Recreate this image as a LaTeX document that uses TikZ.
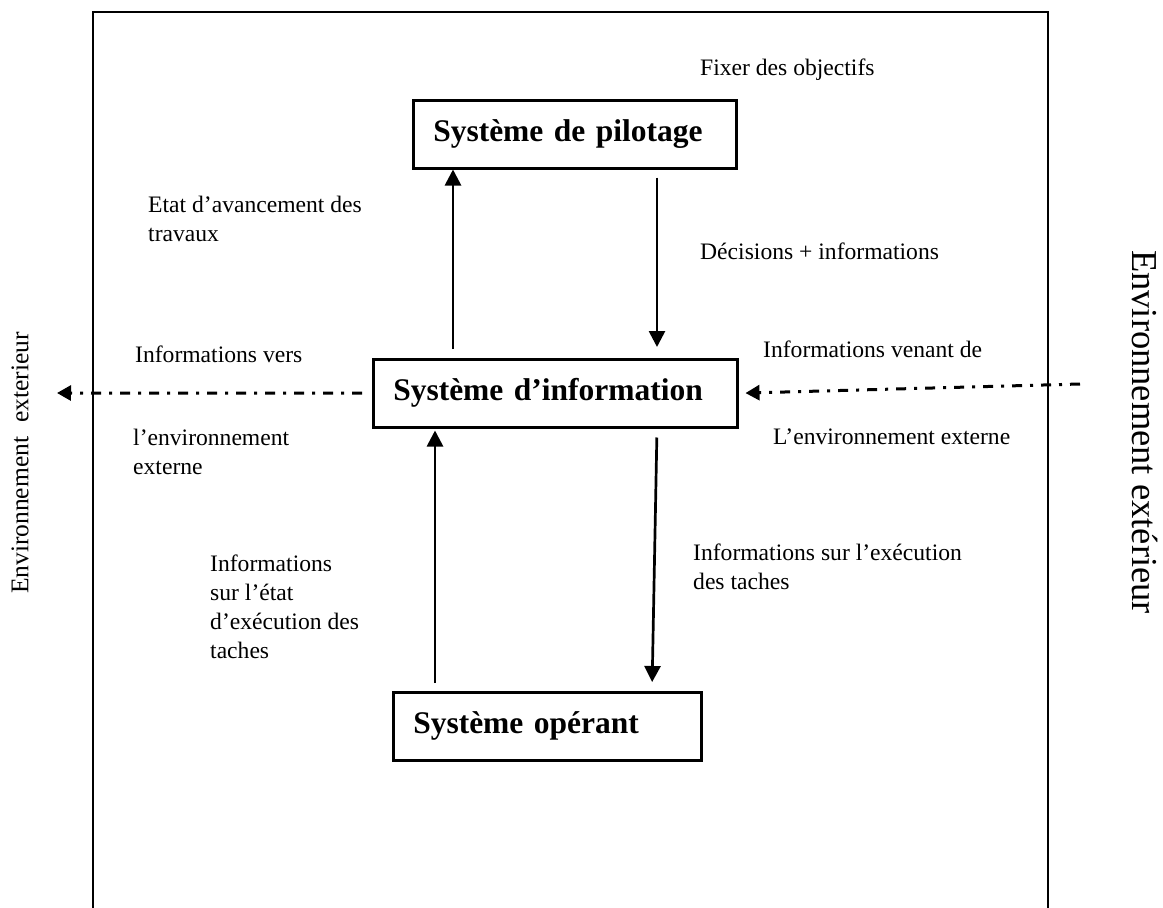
\documentclass[tikz,border=0pt]{standalone}
\usepackage{fontspec}
\setmainfont{Liberation Serif}
\usetikzlibrary{arrows.meta}
\tikzset{arrow/.style = {> = {Triangle[length = 16pt, width = 16pt]}}}
\tikzset{smallarrow/.style = {> = {Triangle[length = 14pt, width = 15pt]}}}
\usetikzlibrary{positioning}

\begin{document}
\begin{tikzpicture}[x = 1pt, y = -1pt,
	box/.style = {rectangle, draw, line width = 2.5pt, minimum height = 68pt, inner xsep = 20pt, align = left, font = \fontsize{31.5}{38}\selectfont\bfseries},
	lbl/.style = {anchor = north west, align = left, inner sep = 0pt, font = \fontsize{23.6}{29}\selectfont},
	flow/.style = {line width = 2.7pt},
	dashdot/.style = {line width = 3pt, dash pattern = on 10pt off 8pt on 3pt off 8pt}]
	\useasboundingbox (0, 0) rectangle (1163, 908);

	%% Frame
	\draw[line width = 1.8pt] (93, 908) -- (93, 12) -- (1048, 12) -- (1048, 908);

	%% Systems
	\node[box, anchor = north west, text width = 283pt] (pilot) at (412, 99) {Système de pilotage};
	\node[box, anchor = north west, text width = 324pt] (info) at (372, 358) {Système d’information};
	\node[box, anchor = north west, text width = 268pt] (oper) at (392, 691) {Système opérant};

	%% Environment
	\node[rotate = 90, font = \fontsize{25.5}{31}\selectfont] (envL) at (20, 463) {Environnement\hspace{0.3em} exterieur};
	\node[rotate = -90, font = \fontsize{36.5}{44}\selectfont] (envR) at (1145, 432) {Environnement extérieur};

	%% Labels
	\node[lbl] (objectifs) at (700, 59) {Fixer des objectifs};
	\node[lbl] (avancement) at (148, 196) {Etat d’avancement des\\travaux};
	\node[lbl] (decisions) at (700, 243) {Décisions + informations};
	\node[lbl] (versA) at (135, 346) {Informations vers};
	\node[lbl] (versB) at (133, 429) {l’environnement\\externe};
	\node[lbl] (venantA) at (763, 341) {Informations venant de};
	\node[lbl] (venantB) at (773, 429) {L’environnement externe};
	\node[lbl] (etat) at (210, 555) {Informations\\sur l’état\\d’exécution des\\taches};
	\node[lbl] (execution) at (693, 544) {Informations sur l’exécution\\des taches};

	%% Arrows...
	\coordinate (upA) at (453, 0);
	\coordinate (downA) at (657, 0);
	\coordinate (upB) at (435, 0);
	\coordinate (downB) at (657, 0);
	\coordinate (downC) at (652, 0);
	\coordinate (extL) at (57, 393);
	\coordinate (extR) at (1080, 384);

	% ... pilotage <-> information
	\draw[->, arrow, flow, shorten <= 9pt] (info.north -| upA) -- (pilot.south -| upA);
	\draw[->, arrow, flow, shorten <= 8pt, shorten >= 11pt] (pilot.south -| downA) -- (info.north -| downA);

	% ... information <-> operant
	\draw[->, arrow, flow, shorten <= 8pt, shorten >= 2pt] (oper.north -| upB) -- (info.south -| upB);
	\draw[->, arrow, flow, shorten <= 9pt, shorten >= 9pt] (info.south -| downB) -- (oper.north -| downC);

	% ... information <-> environment
	\draw[->, smallarrow, dashdot, shorten <= 10pt] (info.west) -- (extL);
	\draw[->, smallarrow, dashdot, shorten >= 7pt] (extR) -- (info.east);
\end{tikzpicture}
\end{document}
